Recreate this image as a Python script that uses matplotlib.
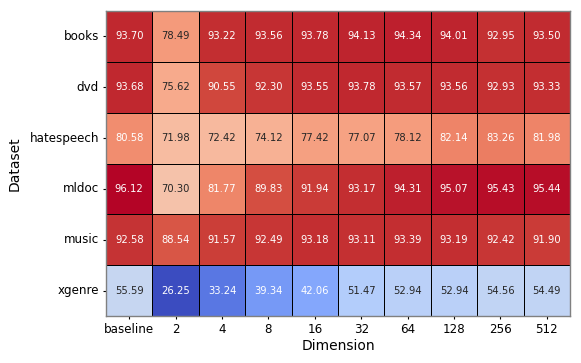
import matplotlib
matplotlib.use("Agg")
import matplotlib.pyplot as plt
import seaborn as sns
import numpy as np
import pandas as pd

datasets = ["books", "dvd", "hatespeech", "mldoc", "music", "xgenre"]
dimensions = ["baseline", "2", "4", "8", "16", "32", "64", "128", "256", "512"]

books = [93.70, 78.49, 93.22, 93.56, 93.78, 94.13, 94.34, 94.01, 92.95, 93.50]
dvd = [93.68, 75.62, 90.55, 92.30, 93.55, 93.78, 93.57, 93.56, 92.93, 93.33]
hatespeech = [80.58, 71.98, 72.42, 74.12, 77.42, 77.07, 78.12, 82.14, 83.26, 81.98]
mldoc = [96.12, 70.30, 81.77, 89.83, 91.94, 93.17, 94.31, 95.07, 95.43, 95.44]
music = [92.58, 88.54, 91.57, 92.49, 93.18, 93.11, 93.39, 93.19, 92.42, 91.90]
xgenre = [55.59, 26.25, 33.24, 39.34, 42.06, 51.47, 52.94, 52.94, 54.56, 54.49]

df = pd.DataFrame([books, dvd, hatespeech, mldoc, music, xgenre],
                  index=datasets, columns=dimensions)

fig = plt.figure(figsize=(5.81, 3.63), dpi=100)
ax = fig.add_axes([106/581, 1 - 316/363, (570-106)/581, (316-11)/363])
sns.heatmap(df, ax=ax, annot=True, fmt=".2f", cmap="coolwarm",
            linewidths=0.5, linecolor="black", cbar=False,
            annot_kws={"fontsize": 7.2})
for s in ax.spines.values():
    s.set_visible(True)
    s.set_edgecolor("#808080")
    s.set_linewidth(1.0)
ax.set_xlabel("Dimension", fontsize=10, labelpad=2)
ax.set_ylabel("Dataset", fontsize=10, labelpad=5.5)
ax.tick_params(axis="both", labelsize=8.6, length=2.5, pad=2.5, width=0.8)
plt.setp(ax.get_yticklabels(), rotation=0)
plt.setp(ax.get_xticklabels(), rotation=0)
fig.savefig("out.png", dpi=100)
